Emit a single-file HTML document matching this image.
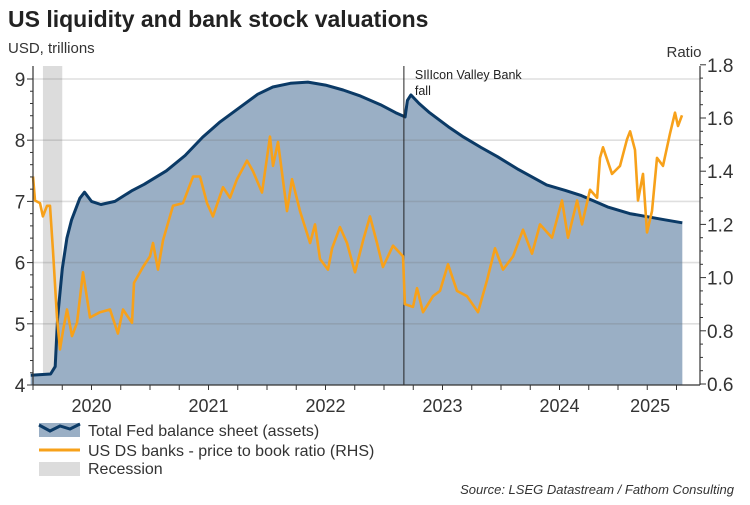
<!DOCTYPE html>
<html><head><meta charset="utf-8"><style>
body{margin:0;background:#fff;width:750px;height:500px;overflow:hidden;font-family:"Liberation Sans",sans-serif}
</style></head><body>
<svg id="c" width="750" height="500" xmlns="http://www.w3.org/2000/svg" font-family="Liberation Sans, sans-serif">
<text x="8" y="27" font-size="23" font-weight="bold" fill="#222">US liquidity and bank stock valuations</text>
<text x="8" y="53" font-size="15" fill="#333">USD, trillions</text>
<text x="684" y="57" font-size="15" fill="#333" text-anchor="middle">Ratio</text>
<g id="rec"></g><g id="area"></g><g id="grid"></g><g id="lines"></g><g id="axes"></g>
<g>
<rect x="39" y="423" width="41" height="14" fill="#9AAFC5"/>
<polyline points="39,425 50,431 60,426 70,429 80,424" fill="none" stroke="#0B3A66" stroke-width="3"/>
<text x="88" y="436" font-size="16" fill="#333">Total Fed balance sheet (assets)</text>
<line x1="39" y1="450" x2="80" y2="450" stroke="#F7A11A" stroke-width="3"/>
<text x="88" y="456" font-size="16" fill="#333">US DS banks - price to book ratio (RHS)</text>
<rect x="39" y="462" width="41" height="14" fill="#DCDCDC"/>
<text x="88" y="474" font-size="16" fill="#333">Recession</text>
</g>
<text x="734" y="494" font-size="13" font-style="italic" fill="#333" text-anchor="end">Source: LSEG Datastream / Fathom Consulting</text>
</svg>
<script>
const fedDates=[2019.98,2020.15,2020.19,2020.21,2020.25,2020.29,2020.33,2020.40,2020.44,2020.50,2020.58,2020.70,2020.85,2020.95,2021.14,2021.30,2021.45,2021.60,2021.77,2021.92,2022.05,2022.20,2022.35,2022.50,2022.65,2022.80,2022.97,2023.10,2023.18,2023.20,2023.23,2023.30,2023.39,2023.55,2023.68,2023.83,2023.97,2024.15,2024.39,2024.55,2024.68,2024.91,2025.10,2025.25,2025.40,2025.55];
const fedValues=[4.16,4.18,4.3,5.1,5.9,6.4,6.7,7.05,7.15,7.0,6.95,7.0,7.18,7.28,7.5,7.75,8.05,8.3,8.54,8.75,8.87,8.93,8.95,8.9,8.82,8.72,8.58,8.45,8.38,8.65,8.74,8.6,8.45,8.22,8.05,7.88,7.73,7.52,7.27,7.18,7.10,6.91,6.8,6.75,6.7,6.65];
const ratioDates=[2020.000,2020.017,2020.060,2020.085,2020.120,2020.145,2020.171,2020.205,2020.231,2020.256,2020.291,2020.333,2020.376,2020.427,2020.487,2020.573,2020.658,2020.726,2020.769,2020.846,2020.863,2020.940,2021.000,2021.026,2021.068,2021.111,2021.197,2021.282,2021.368,2021.427,2021.487,2021.538,2021.624,2021.684,2021.744,2021.829,2021.880,2021.957,2022.026,2022.051,2022.094,2022.171,2022.214,2022.282,2022.368,2022.410,2022.453,2022.521,2022.556,2022.624,2022.684,2022.752,2022.821,2022.880,2022.940,2022.991,2023.077,2023.162,2023.179,2023.248,2023.282,2023.333,2023.419,2023.479,2023.547,2023.624,2023.709,2023.803,2023.880,2023.949,2024.017,2024.103,2024.188,2024.265,2024.333,2024.436,2024.521,2024.573,2024.650,2024.692,2024.761,2024.821,2024.846,2024.872,2024.949,2025.017,2025.077,2025.103,2025.145,2025.171,2025.214,2025.248,2025.291,2025.333,2025.385,2025.444,2025.487,2025.513,2025.547];
const ratioValues=[1.38,1.29,1.28,1.23,1.27,1.27,1.10,0.85,0.73,0.80,0.88,0.78,0.83,1.02,0.85,0.87,0.88,0.79,0.88,0.83,0.98,1.04,1.08,1.13,1.03,1.14,1.27,1.28,1.38,1.38,1.28,1.23,1.34,1.30,1.37,1.44,1.40,1.32,1.53,1.42,1.51,1.25,1.37,1.25,1.13,1.20,1.07,1.03,1.11,1.19,1.13,1.02,1.14,1.23,1.13,1.04,1.12,1.08,0.90,0.89,0.96,0.87,0.93,0.95,1.05,0.95,0.93,0.87,0.99,1.11,1.03,1.08,1.18,1.09,1.20,1.15,1.29,1.15,1.29,1.20,1.33,1.30,1.45,1.49,1.39,1.42,1.52,1.55,1.48,1.29,1.39,1.17,1.25,1.45,1.42,1.54,1.62,1.57,1.61];
const leftTicks=[4,5,6,7,8,9];
const rightTicks=[0.6,0.8,1.0,1.2,1.4,1.6,1.8];
const yearLabels=["2020","2021","2022","2023","2024","2025"];
const recession=[2020.085,2020.25];
const svbDate=2023.17;

const NS="http://www.w3.org/2000/svg";
const X0=33,X1=700,YT=66,YB=385;
const xs=t=>33+117*(t-2020);
const yl=v=>385-(v-4)*61.2;
const yr=v=>384-(v-0.6)*266;
function mk(tag,attrs,parent,text){const e=document.createElementNS(NS,tag);for(const k in attrs)e.setAttribute(k,attrs[k]);if(text!==undefined)e.textContent=text;document.getElementById(parent).appendChild(e);return e;}

leftTicks.forEach(v=>{
  if(v>4){const g=mk('line',{x1:X0,x2:X1,y1:yl(v),y2:yl(v),stroke:'rgba(110,110,110,0.22)','stroke-width':1.6},'grid');
  
  }
  const t=mk('text',{x:20,y:yl(v)+7,'font-size':19,fill:'#333','text-anchor':'middle'},'axes',String(v));
  
  
});
for(let v=4;v<=9.01;v+=0.2){mk('line',{x1:X0-(Math.abs(v-Math.round(v))<0.01?6:3),x2:X0,y1:yl(v),y2:yl(v),stroke:'#333'},'axes');}
rightTicks.forEach(v=>{
  const t=mk('text',{x:707,y:yr(v)+7,'font-size':19,fill:'#333'},'axes',v.toFixed(1));
  
  
});
for(let v=0.6;v<=1.801;v+=0.05){const maj=Math.abs(v*5-Math.round(v*5))<0.01;mk('line',{x1:X1,x2:X1+(maj?6:3),y1:yr(v),y2:yr(v),stroke:'#333'},'axes');}

const rc=mk('rect',{x:xs(recession[0]),y:YT,width:xs(recession[1])-xs(recession[0]),height:YB-YT,fill:'#DCDCDC'},'rec');



let d='M'+xs(fedDates[0])+','+YB;
fedDates.forEach((t,i)=>{d+=' L'+xs(t).toFixed(1)+','+yl(fedValues[i]).toFixed(1);});
d+=' L'+xs(fedDates[fedDates.length-1])+','+YB+' Z';
const ar=mk('path',{d:d,fill:'#9AAFC5'},'area');


const fl=mk('polyline',{points:fedDates.map((t,i)=>xs(t).toFixed(1)+','+yl(fedValues[i]).toFixed(1)).join(' '),fill:'none',stroke:'#0B3A66','stroke-width':3,'stroke-linejoin':'round'},'lines');



const sv=mk('line',{x1:xs(svbDate),x2:xs(svbDate),y1:YT,y2:YB,stroke:'#222','stroke-width':1},'lines');


const st1=mk('text',{x:xs(svbDate)+11,y:79,'font-size':12.5,fill:'#222'},'lines','SIlIcon Valley Bank');


const st2=mk('text',{x:xs(svbDate)+11,y:95,'font-size':12.5,fill:'#222'},'lines','fall');



const rl=mk('polyline',{points:ratioDates.map((t,i)=>xs(t).toFixed(1)+','+yr(ratioValues[i]).toFixed(1)).join(' '),fill:'none',stroke:'#F7A11A','stroke-width':2.6,'stroke-linejoin':'round'},'lines');



mk('line',{x1:X0,x2:X0,y1:YT,y2:YB,stroke:'#333','stroke-width':1.2},'axes');
mk('line',{x1:X1,x2:X1,y1:YT,y2:YB,stroke:'#333','stroke-width':1.2},'axes');
mk('line',{x1:X0,x2:X1,y1:YB,y2:YB,stroke:'#333','stroke-width':1.2},'axes');
for(let q=0;q<=22;q++){const x=xs(2020+q*0.25);if(x<=X1)mk('line',{x1:x,x2:x,y1:YB,y2:YB+5,stroke:'#333'},'axes');}
yearLabels.forEach((s,i)=>{
  const y0=+s;const end=Math.min(y0+1,2025.55);
  const t=mk('text',{x:(xs(y0)+xs(end))/2,y:412,'font-size':18,fill:'#333','text-anchor':'middle'},'axes',s);
  
  
});
</script>
</body></html>
